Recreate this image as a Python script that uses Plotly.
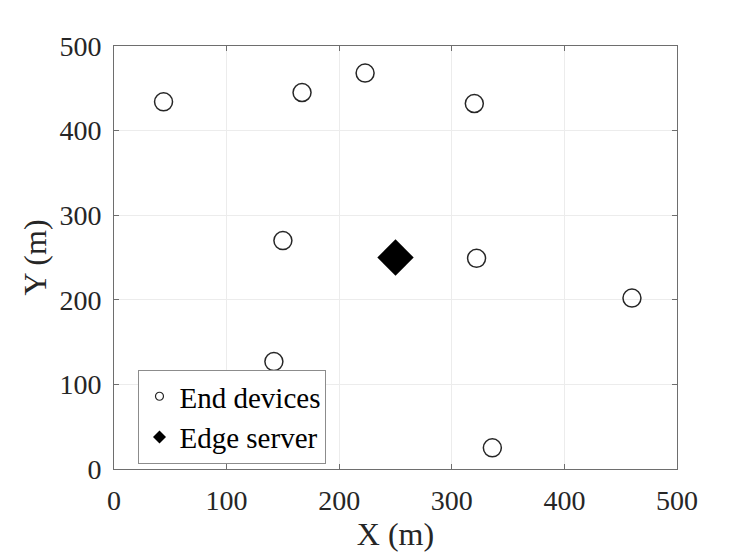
import plotly.graph_objects as go

# Data
device_x = [44, 167, 223, 320, 150, 322, 460, 142, 336]
device_y = [434, 445, 468, 432, 270, 249, 202, 127, 25]
server_x = [250]
server_y = [250]
tick_vals = [0, 100, 200, 300, 400, 500]

font_family = "Liberation Serif, Times New Roman, serif"
dark = "#262626"

fig = go.Figure()
fig.add_trace(go.Scatter(
    x=device_x, y=device_y, mode="markers", showlegend=False,
    marker=dict(symbol="circle-open", size=18, color=dark, line=dict(width=1.5, color=dark)),
))
fig.add_trace(go.Scatter(
    x=server_x, y=server_y, mode="markers", showlegend=False,
    marker=dict(symbol="diamond", size=28, color="black", line=dict(width=0)),
))
# legend entries with small symbols
fig.add_trace(go.Scatter(
    x=[None], y=[None], mode="markers", name="End devices",
    marker=dict(symbol="circle-open", size=8, color=dark, line=dict(width=1.2, color=dark)),
))
fig.add_trace(go.Scatter(
    x=[None], y=[None], mode="markers", name="Edge server",
    marker=dict(symbol="diamond", size=10, color="black"),
))

axis_common = dict(
    range=[0, 500], tickvals=tick_vals, ticks="inside", ticklen=5, tickwidth=1,
    tickcolor="#6e6e6e", showline=True, linecolor="#6e6e6e", linewidth=1,
    mirror="ticks", showgrid=True, gridcolor="#ececec", gridwidth=1, zeroline=False,
    tickfont=dict(family=font_family, size=28, color=dark),
)

# the page body has an 8px margin, so the figure is shrunk by that amount
fig.update_layout(
    width=731, height=545,
    margin=dict(l=105.5, r=62, t=37.5, b=84),
    paper_bgcolor="white", plot_bgcolor="white",
    xaxis=dict(**axis_common, ticklabelstandoff=6,
               title=dict(text="X (m)", font=dict(family=font_family, size=32, color=dark), standoff=4)),
    yaxis=dict(**axis_common, ticklabelstandoff=6,
               title=dict(text="Y (m)", font=dict(family=font_family, size=32, color=dark), standoff=3)),
    legend=dict(
        x=0.0435, y=0.012, xanchor="left", yanchor="bottom",
        bgcolor="white", bordercolor="#8c8c8c", borderwidth=1,
        font=dict(family=font_family, size=29, color="black"),
        itemsizing="trace", tracegroupgap=0,
    ),
)

fig.write_html("out.html")
